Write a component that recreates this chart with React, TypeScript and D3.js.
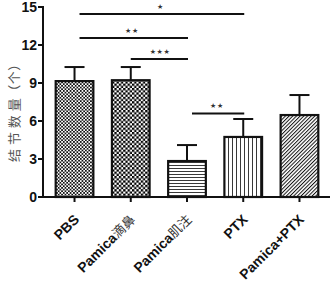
import React from "react";
import * as d3 from "d3";

const categories = ["PBS", "Pamica滴鼻", "Pamica肌注", "PTX", "Pamica+PTX"];
const means = [9.15, 9.22, 2.84, 4.74, 6.47];
const errors = [1.11, 1.04, 1.26, 1.42, 1.58];
const yTicks = [0, 3, 6, 9, 12, 15];
const patterns = ["fineCheck", "coarseCheck", "hLines", "vLines", "diag"];
const sigBrackets = [
  { from: 0, to: 3, level: 14.45, label: "★", labelAt: 160.5 },
  { from: 0, to: 2, level: 12.55, label: "★★", labelAt: 132 },
  { from: 1, to: 2, level: 10.9, label: "★★★", labelAt: 160 },
  { from: 2, to: 3, level: 6.6, label: "★★", labelAt: 217 },
];

const W = 330;
const H = 281;

function splitLabel(s: string) {
  const m = s.match(/^([\x00-\x7F]*)(.*)$/);
  return m ? [m[1], m[2]] : [s, ""];
}

export default function App() {
  const y = d3.scaleLinear().domain([0, 15]).range([197, 7]);
  const x = d3.scaleBand().domain(categories).range([45, 329]).paddingInner(0.33).paddingOuter(0.19);
  const bw = x.bandwidth();
  const cx = (i: number) => (x(categories[i]) as number) + bw / 2;

  return (
    <svg width={W} height={H} style={{ position: "absolute", left: 0, top: 0, background: "#fff" }}>
      <defs>
        <pattern id="fineCheck" width={3.4} height={3.4} patternUnits="userSpaceOnUse">
          <rect width={3.4} height={3.4} fill="#fff" />
          <rect width={1.7} height={1.7} fill="#111" />
          <rect x={1.7} y={1.7} width={1.7} height={1.7} fill="#111" />
        </pattern>
        <pattern id="coarseCheck" width={4.4} height={4.4} patternUnits="userSpaceOnUse">
          <rect width={4.4} height={4.4} fill="#fff" />
          <rect width={2.3} height={2.3} fill="#000" />
          <rect x={2.2} y={2.2} width={2.3} height={2.3} fill="#000" />
        </pattern>
        <pattern id="hLines" width={4} height={3} patternUnits="userSpaceOnUse">
          <rect width={4} height={3} fill="#fff" />
          <line x1={0} x2={4} y1={0.5} y2={0.5} stroke="#222" strokeWidth={0.9} />
        </pattern>
        <pattern id="vLines" width={4} height={4} patternUnits="userSpaceOnUse">
          <rect width={4} height={4} fill="#fff" />
          <line x1={0.5} x2={0.5} y1={0} y2={4} stroke="#222" strokeWidth={0.9} />
        </pattern>
        <pattern id="diag" width={2.6} height={2.6} patternUnits="userSpaceOnUse" patternTransform="rotate(45)">
          <rect width={2.6} height={2.6} fill="#fff" />
          <line x1={0.5} x2={0.5} y1={0} y2={2.6} stroke="#111" strokeWidth={1} />
        </pattern>
      </defs>

      {/* bars */}
      {categories.map((c, i) => {
        const top = y(means[i]);
        const et = y(means[i] + errors[i]);
        return (
          <g key={c}>
            <line x1={cx(i)} x2={cx(i)} y1={top} y2={et} stroke="#111" strokeWidth={2} />
            <line x1={cx(i) - 10} x2={cx(i) + 10} y1={et} y2={et} stroke="#111" strokeWidth={2} />
            <rect
              x={x(c) as number}
              y={top}
              width={bw}
              height={y(0) - top}
              fill={`url(#${patterns[i]})`}
              stroke="#111"
              strokeWidth={2.2}
            />
          </g>
        );
      })}

      {/* axes */}
      <line x1={43} x2={43} y1={y(15) - 1} y2={y(0) + 1} stroke="#111" strokeWidth={2} />
      <line x1={42} x2={330} y1={y(0)} y2={y(0)} stroke="#111" strokeWidth={2} />
      {yTicks.map((t) => (
        <g key={t}>
          <line x1={38} x2={43} y1={y(t)} y2={y(t)} stroke="#111" strokeWidth={2} />
          <text
            x={37}
            y={y(t)}
            dy="0.36em"
            textAnchor="end"
            fontFamily="Liberation Sans, Arial, sans-serif"
            fontWeight="bold"
            fontSize={14}
            fill="#111"
          >
            {t}
          </text>
        </g>
      ))}
      {categories.map((c, i) => {
        const [latin, cjk] = splitLabel(c);
        return (
          <g key={c}>
            <line x1={cx(i)} x2={cx(i)} y1={y(0)} y2={y(0) + 5} stroke="#111" strokeWidth={2} />
            <text
              transform={`translate(${cx(i) + 2},${y(0) + 20}) rotate(-45)`}
              textAnchor="end"
              dy="0.35em"
              fontFamily="Liberation Sans, Arial, sans-serif"
              fontWeight="bold"
              fontSize={14}
              fill="#111"
            >
              {latin}
              {cjk && (
                <tspan fontFamily="'Noto Sans CJK SC', sans-serif" fontWeight="normal" fontSize={13} fill="#333">
                  {cjk}
                </tspan>
              )}
            </text>
          </g>
        );
      })}

      {/* y label */}
      <text
        transform={`translate(19,${y(6.9)}) rotate(-90)`}
        textAnchor="middle"
        fontFamily="'Noto Sans CJK SC', sans-serif"
        fontSize={13}
        fill="#555"
        letterSpacing={0.5}
      >
        结 节 数 量（个）
      </text>

      {/* significance */}
      {sigBrackets.map((s, k) => {
        const x1 = cx(s.from) + (s.from === 1 ? 0 : 5);
        const x2 = cx(s.to) + 1;
        return (
          <g key={k}>
            <line x1={x1} x2={x2} y1={y(s.level)} y2={y(s.level)} stroke="#111" strokeWidth={2} />
            <text
              x={s.labelAt}
              y={y(s.level) - 7}
              textAnchor="middle"
              dominantBaseline="central"
              fontFamily="'DejaVu Sans', sans-serif"
              fontSize={7}
              letterSpacing={0.6}
              fill="#333"
            >
              {s.label}
            </text>
          </g>
        );
      })}
    </svg>
  );
}
